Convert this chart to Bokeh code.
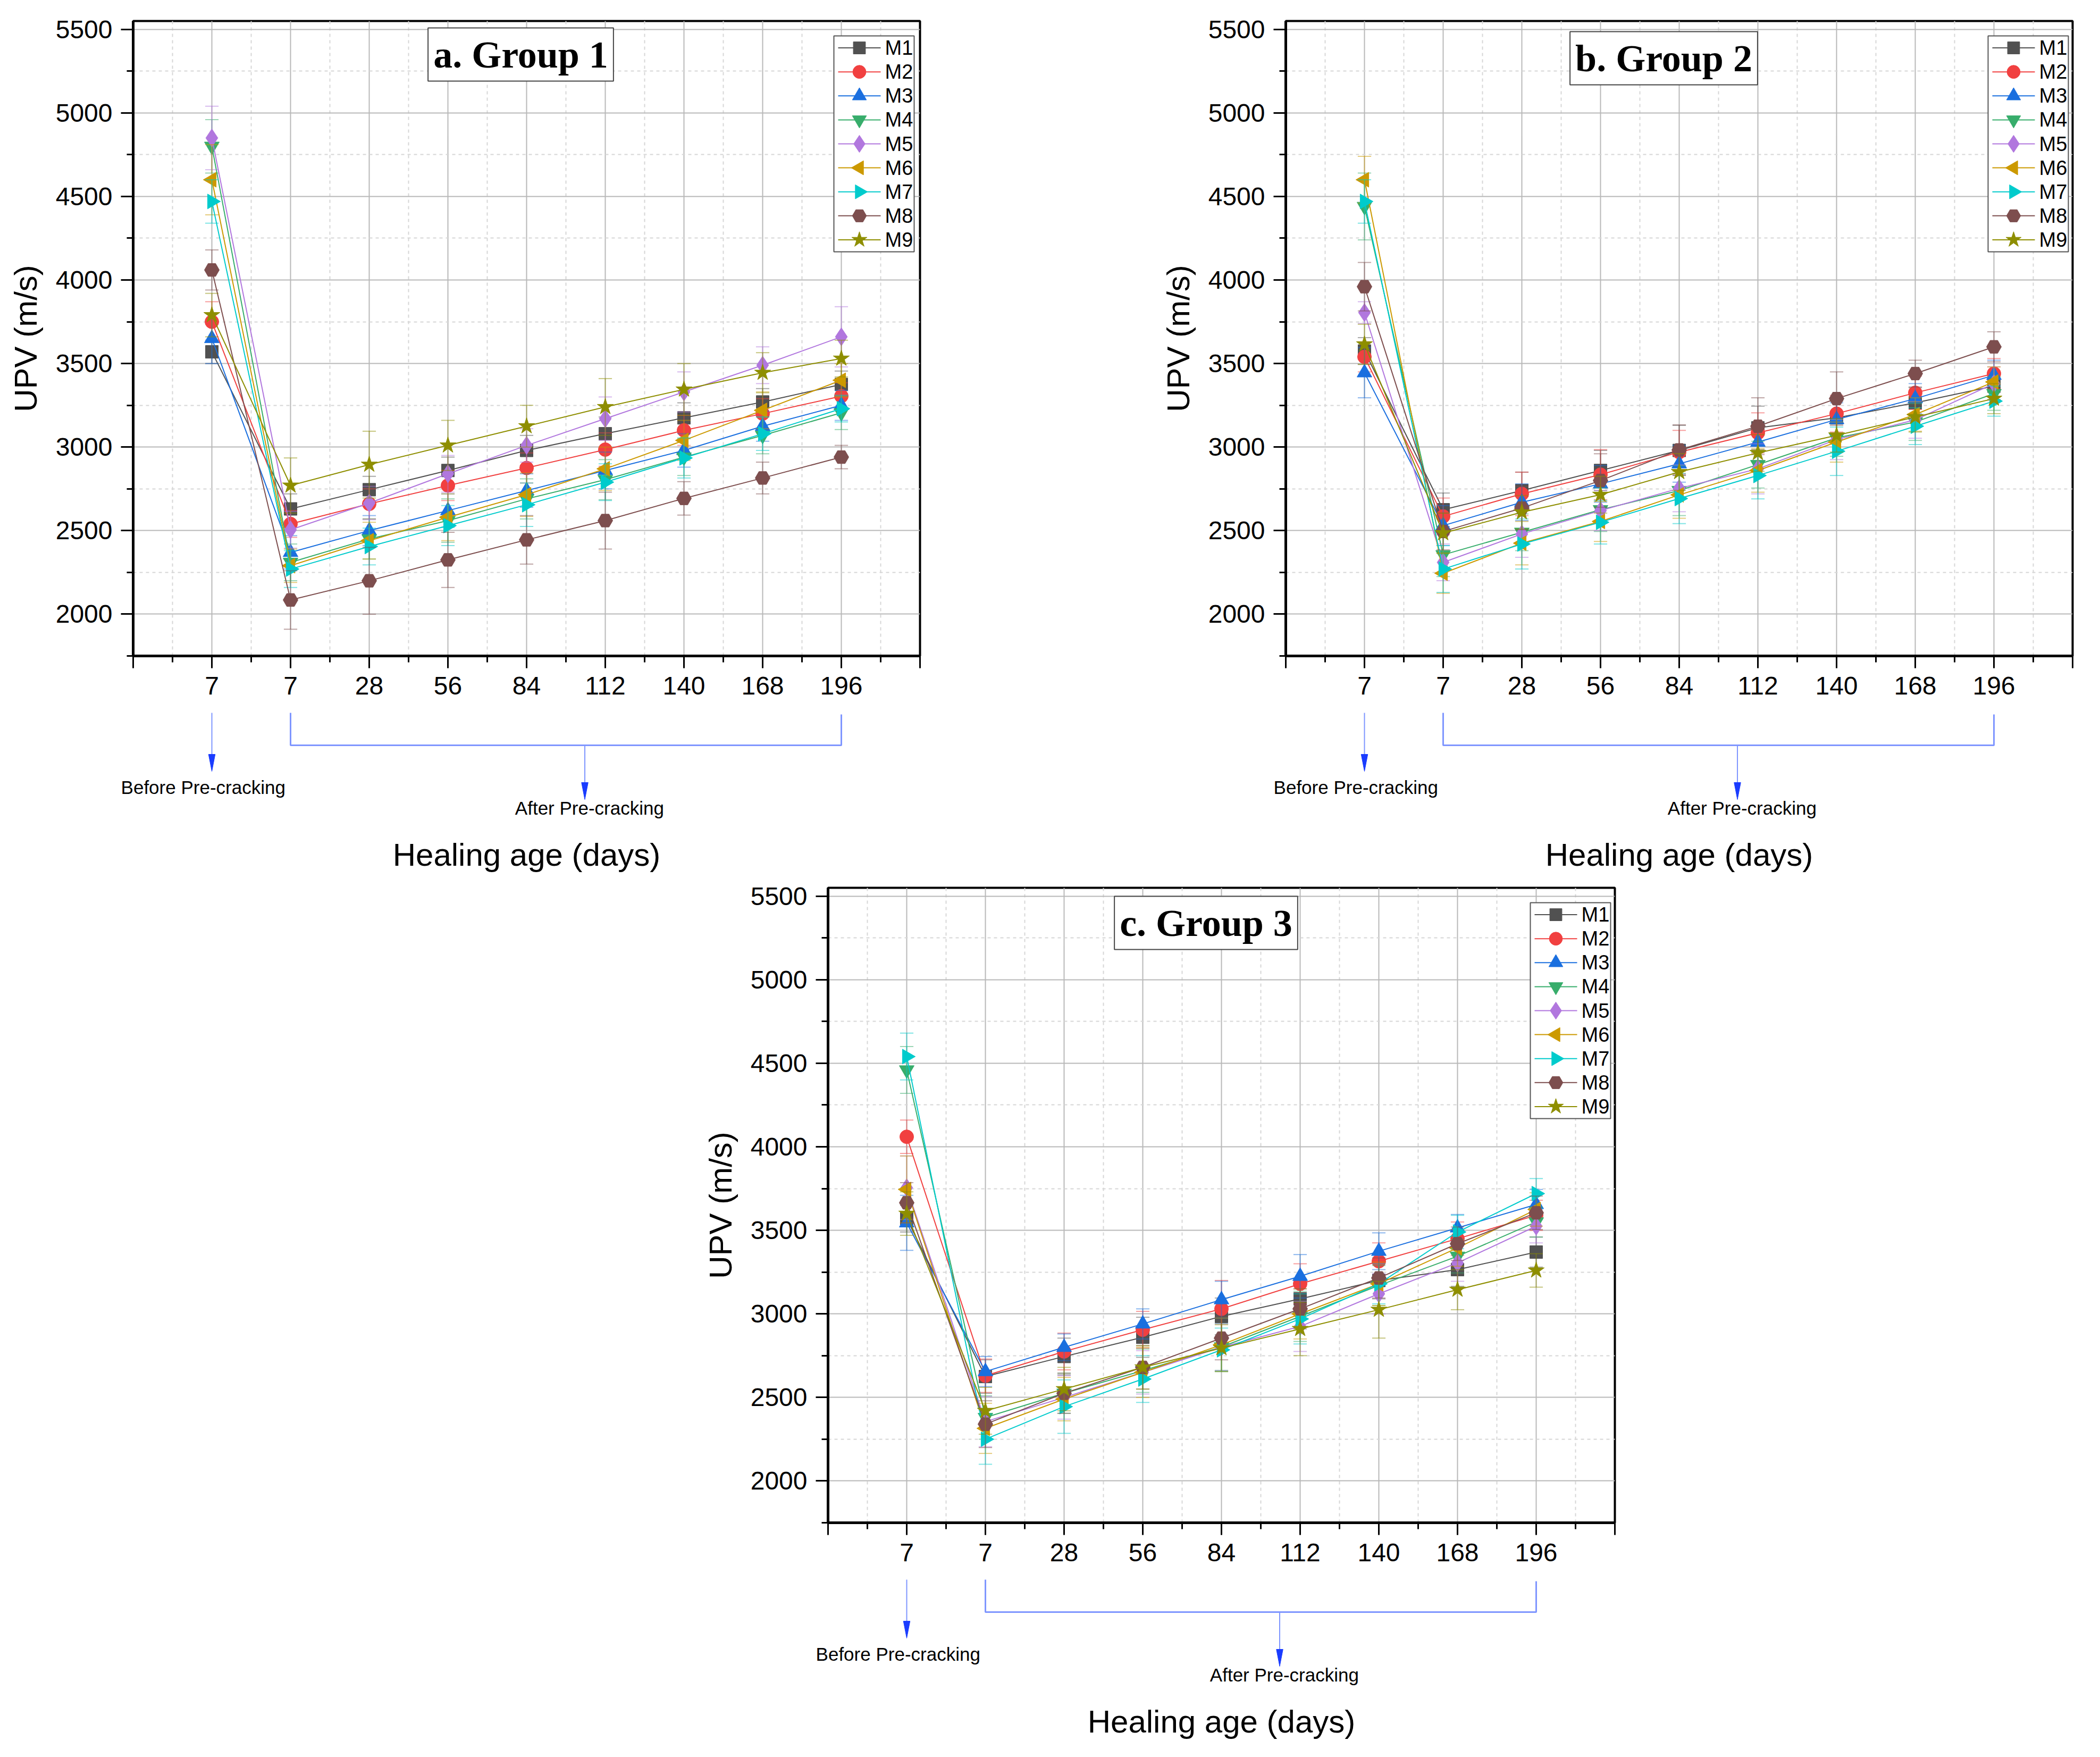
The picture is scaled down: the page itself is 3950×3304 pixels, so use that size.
import numpy as np
from bokeh.plotting import figure
from bokeh.models import Range1d, FixedTicker, Label, Spacer
from bokeh.layouts import row, column
from bokeh.embed import file_html
from bokeh.resources import INLINE
from bokeh.core.properties import value

# ---------------- data ----------------
age_labels = ["7", "7", "28", "56", "84", "112", "140", "168", "196"]
series_names = ["M1", "M2", "M3", "M4", "M5", "M6", "M7", "M8", "M9"]
ytick_values = [2000, 2500, 3000, 3500, 4000, 4500, 5000, 5500]
panel_titles = ["a. Group 1", "b. Group 2", "c. Group 3"]

# Group 1 UPV (m/s)
g1_m1 = [3570, 2630, 2745, 2860, 2980, 3080, 3175, 3270, 3375]
g1_m2 = [3750, 2540, 2660, 2770, 2875, 2985, 3100, 3200, 3305]
g1_m3 = [3650, 2370, 2500, 2620, 2740, 2860, 2980, 3125, 3250]
g1_m4 = [4800, 2310, 2450, 2560, 2690, 2805, 2940, 3070, 3205]
g1_m5 = [4850, 2505, 2665, 2840, 3010, 3170, 3330, 3490, 3660]
g1_m6 = [4600, 2290, 2440, 2580, 2715, 2870, 3040, 3220, 3400]
g1_m7 = [4470, 2270, 2405, 2530, 2655, 2790, 2935, 3080, 3230]
g1_m8 = [4060, 2085, 2200, 2325, 2445, 2560, 2693, 2815, 2940]
g1_m9 = [3790, 2770, 2895, 3010, 3125, 3240, 3345, 3445, 3530]
# Group 1 error (+/-)
g1_e1 = [70, 90, 80, 80, 90, 100, 90, 80, 80]
g1_e2 = [120, 80, 90, 90, 90, 100, 90, 90, 80]
g1_e3 = [150, 100, 90, 100, 100, 110, 100, 90, 90]
g1_e4 = [160, 110, 120, 130, 120, 120, 110, 110, 100]
g1_e5 = [190, 110, 100, 110, 100, 130, 120, 110, 180]
g1_e6 = [210, 100, 110, 140, 130, 130, 120, 110, 100]
g1_e7 = [130, 110, 110, 120, 130, 110, 120, 100, 80]
g1_e8 = [120, 175, 200, 165, 145, 170, 100, 95, 70]
g1_e9 = [130, 165, 200, 150, 125, 170, 155, 120, 110]

# Group 2 UPV (m/s)
g2_m1 = [3575, 2625, 2740, 2860, 2980, 3115, 3175, 3265, 3365]
g2_m2 = [3540, 2585, 2720, 2835, 2970, 3085, 3200, 3325, 3440]
g2_m3 = [3445, 2530, 2670, 2780, 2900, 3030, 3165, 3290, 3430]
g2_m4 = [4440, 2355, 2490, 2625, 2740, 2895, 3055, 3150, 3320]
g2_m5 = [3805, 2310, 2480, 2620, 2753, 2870, 3045, 3163, 3380]
g2_m6 = [4600, 2245, 2425, 2555, 2714, 2860, 3030, 3195, 3390]
g2_m7 = [4470, 2270, 2420, 2550, 2692, 2830, 2975, 3125, 3275]
g2_m8 = [3960, 2495, 2635, 2800, 2983, 3125, 3290, 3440, 3600]
g2_m9 = [3615, 2485, 2610, 2715, 2851, 2965, 3070, 3180, 3290]
# Group 2 error (+/-)
g2_e1 = [80, 100, 110, 120, 150, 130, 100, 90, 80]
g2_e2 = [90, 110, 130, 150, 130, 120, 110, 100, 90]
g2_e3 = [150, 120, 110, 110, 110, 110, 100, 90, 90]
g2_e4 = [200, 130, 110, 130, 150, 140, 110, 110, 100]
g2_e5 = [65, 110, 140, 120, 140, 150, 120, 110, 100]
g2_e6 = [140, 120, 130, 120, 140, 130, 120, 100, 90]
g2_e7 = [130, 140, 150, 130, 150, 140, 145, 110, 90]
g2_e8 = [145, 110, 130, 160, 150, 170, 160, 80, 90]
g2_e9 = [120, 120, 100, 110, 110, 110, 100, 90, 90]

# Group 3 UPV (m/s)
g3_m1 = [3570, 2625, 2745, 2860, 2985, 3090, 3200, 3265, 3370]
g3_m2 = [4060, 2630, 2775, 2905, 3030, 3180, 3315, 3450, 3590]
g3_m3 = [3545, 2655, 2800, 2940, 3085, 3225, 3375, 3515, 3655]
g3_m4 = [4460, 2380, 2525, 2660, 2802, 2985, 3170, 3345, 3550]
g3_m5 = [3755, 2355, 2500, 2650, 2800, 2925, 3120, 3305, 3525]
g3_m6 = [3745, 2315, 2490, 2650, 2815, 3000, 3180, 3395, 3625]
g3_m7 = [4540, 2250, 2445, 2610, 2785, 2970, 3180, 3490, 3720]
g3_m8 = [3665, 2340, 2525, 2680, 2855, 3030, 3215, 3420, 3605]
g3_m9 = [3600, 2420, 2550, 2680, 2795, 2910, 3025, 3145, 3260]
# Group 3 error (+/-)
g3_e1 = [80, 100, 110, 120, 110, 120, 110, 100, 90]
g3_e2 = [100, 100, 110, 110, 170, 120, 110, 100, 90]
g3_e3 = [165, 90, 80, 90, 110, 130, 110, 80, 90]
g3_e4 = [140, 130, 120, 130, 140, 150, 120, 100, 90]
g3_e5 = [190, 150, 130, 130, 140, 150, 120, 110, 100]
g3_e6 = [200, 150, 130, 150, 160, 150, 130, 110, 100]
g3_e7 = [140, 150, 160, 140, 130, 150, 120, 100, 90]
g3_e8 = [120, 140, 120, 130, 130, 120, 120, 100, 100]
g3_e9 = [130, 140, 130, 130, 140, 160, 170, 120, 100]

groups_vals = [
    [g1_m1, g1_m2, g1_m3, g1_m4, g1_m5, g1_m6, g1_m7, g1_m8, g1_m9],
    [g2_m1, g2_m2, g2_m3, g2_m4, g2_m5, g2_m6, g2_m7, g2_m8, g2_m9],
    [g3_m1, g3_m2, g3_m3, g3_m4, g3_m5, g3_m6, g3_m7, g3_m8, g3_m9],
]
groups_errs = [
    [g1_e1, g1_e2, g1_e3, g1_e4, g1_e5, g1_e6, g1_e7, g1_e8, g1_e9],
    [g2_e1, g2_e2, g2_e3, g2_e4, g2_e5, g2_e6, g2_e7, g2_e8, g2_e9],
    [g3_e1, g3_e2, g3_e3, g3_e4, g3_e5, g3_e6, g3_e7, g3_e8, g3_e9],
]

# ---------------- styles ----------------
colors = ["#515151", "#F14040", "#1A6FDF", "#37AD6B", "#B177DE",
          "#CC9900", "#00CBCC", "#7D4E4E", "#8E8E00"]
markers = ["square", "circle", "triangle", "inverted_triangle", "diamond",
           "triangle", "triangle", "hex", "star"]
angles = [0, 0, 0, 0, 0, np.pi / 2, -np.pi / 2, 0, 0]
msizes = [24, 26, 28, 28, 34, 28, 28, 28, 32]

FONT = "Liberation Sans"
FW, FH = 1480, 1194
XMIN, XMAX = 0, 10
YMIN, YMAX = 1750, 5550
LB, RB, BB = 250, 12, 100
AH = 314
ARROW_BLUE = "#1a3cff"
LINE_BLUE = "#7f96ff"

x_pos = np.arange(1, len(age_labels) + 1)


def sx(px):
    """frame pixel (from left) -> data x"""
    return XMIN + px * (XMAX - XMIN) / FW


def sy(py):
    """frame pixel (from bottom) -> data y"""
    return YMIN + py * (YMAX - YMIN) / FH


def make_main(title, vals_list, errs_list, top_border, title_xy, leg_left):
    p = figure(frame_width=FW, frame_height=FH,
               min_border_left=LB, min_border_right=RB,
               min_border_top=top_border, min_border_bottom=BB,
               x_range=Range1d(XMIN, XMAX), y_range=Range1d(YMIN, YMAX),
               output_backend="svg", toolbar_location=None)
    p.background_fill_color = "white"
    p.border_fill_color = "white"
    p.outline_line_color = "black"
    p.outline_line_width = 4

    p.xaxis.ticker = FixedTicker(ticks=list(range(0, 11)),
                                 minor_ticks=[i + 0.5 for i in range(10)])
    overrides = {0: "", 10: ""}
    for i, lab in enumerate(age_labels):
        overrides[i + 1] = lab
    p.xaxis.major_label_overrides = overrides
    p.yaxis.ticker = FixedTicker(ticks=ytick_values,
                                 minor_ticks=[v - 250 for v in ytick_values])
    for ax in (p.xaxis[0], p.yaxis[0]):
        ax.axis_line_width = 5
        ax.axis_line_color = "black"
        ax.major_tick_line_width = 3
        ax.minor_tick_line_width = 3
        ax.major_tick_out = 23
        ax.major_tick_in = 0
        ax.minor_tick_out = 12
        ax.minor_tick_in = 0
        ax.major_label_text_font = FONT
        ax.major_label_text_font_size = "48px"
        ax.major_label_text_color = "black"
        ax.major_label_standoff = 16
    p.yaxis.axis_label = "UPV (m/s)"
    p.yaxis.axis_label_text_font = FONT
    p.yaxis.axis_label_text_font_size = "60px"
    p.yaxis.axis_label_text_font_style = "normal"
    p.yaxis.axis_label_text_color = "black"
    p.yaxis.axis_label_standoff = 20

    for g in (p.xgrid[0], p.ygrid[0]):
        g.grid_line_color = "#b8b8b8"
        g.grid_line_width = 2
        g.minor_grid_line_color = "#d6d6d6"
        g.minor_grid_line_width = 2
        g.minor_grid_line_dash = "6 6"

    cap = 0.085
    for k, name in enumerate(series_names):
        v = np.array(vals_list[k], dtype=float)
        e = np.array(errs_list[k], dtype=float)
        c = colors[k]
        lo, hi = v - e, v + e
        p.segment(x0=x_pos, y0=lo, x1=x_pos, y1=hi, line_color=c,
                  line_alpha=0.5, line_width=2)
        p.segment(x0=x_pos - cap, y0=hi, x1=x_pos + cap, y1=hi,
                  line_color=c, line_alpha=0.5, line_width=2)
        p.segment(x0=x_pos - cap, y0=lo, x1=x_pos + cap, y1=lo,
                  line_color=c, line_alpha=0.5, line_width=2)
        p.line(x_pos, v, line_color=c, line_width=2)
        p.scatter(x_pos, v, marker=markers[k], size=msizes[k],
                  angle=angles[k], fill_color=c, line_color=c)

    # ---- legend box (drawn with glyphs so sample markers keep full size) ----
    n = len(series_names)
    top_px, bot_px = FH - 28, 760
    right_px = leg_left + 151
    p.quad(left=[sx(leg_left)], right=[sx(right_px)],
           bottom=[sy(bot_px)], top=[sy(top_px)],
           fill_color="white", line_color="#555555", line_width=2)
    rh = (top_px - bot_px) / n
    for k, name in enumerate(series_names):
        cy_px = top_px - rh * (k + 0.5)
        p.segment(x0=[sx(leg_left + 8)], y0=[sy(cy_px)],
                  x1=[sx(leg_left + 88)], y1=[sy(cy_px)],
                  line_color=colors[k], line_width=2)
        p.scatter([sx(leg_left + 48)], [sy(cy_px)], marker=markers[k],
                  size=msizes[k] * 0.95, angle=angles[k],
                  fill_color=colors[k], line_color=colors[k])
        p.text([sx(leg_left + 96)], [sy(cy_px)], text=[name],
               text_font=value(FONT), text_font_size="38px",
               text_color="black", text_align="left", text_baseline="middle")

    cx, cy = title_xy
    p.add_layout(Label(x=cx, y=cy, x_units="screen", y_units="screen",
                       text=title, text_font="Liberation Serif",
                       text_font_style="bold", text_font_size="72px",
                       text_color="black", text_align="center",
                       text_baseline="middle",
                       background_fill_color="white",
                       border_line_color="#444444", border_line_width=2,
                       padding=10))
    return p


def make_annot():
    # frame spans the whole figure width; x-scale identical to the panel above
    q = figure(frame_width=FW + LB, frame_height=AH,
               min_border_left=0, min_border_right=RB,
               min_border_top=0, min_border_bottom=0,
               x_range=Range1d(XMIN - LB * (XMAX - XMIN) / FW, XMAX),
               y_range=Range1d(AH, 0),
               x_axis_type=None, y_axis_type=None, frame_align=False,
               output_backend="svg", toolbar_location=None)
    q.outline_line_color = None
    q.grid.visible = False
    q.border_fill_color = "white"
    hw = 0.042
    q.segment(x0=[1], y0=[7], x1=[1], y1=[100], line_color=LINE_BLUE, line_width=2)
    q.patch(x=[1 - hw, 1 + hw, 1], y=[85, 85, 117],
            fill_color=ARROW_BLUE, line_color=ARROW_BLUE)
    q.line(x=[2, 2, 9, 9], y=[7, 68, 68, 10], line_color=LINE_BLUE, line_width=3)
    xa = 5.74
    q.segment(x0=[xa], y0=[68], x1=[xa], y1=[150], line_color=LINE_BLUE, line_width=2)
    q.patch(x=[xa - hw, xa + hw, xa], y=[138, 138, 170],
            fill_color=ARROW_BLUE, line_color=ARROW_BLUE)
    for tx, ty, txt, fs in [(0.89, 147, "Before Pre-cracking", "35px"),
                            (5.8, 186, "After Pre-cracking", "35px"),
                            (5.0, 274, "Healing age (days)", "60px")]:
        q.text(x=[tx], y=[ty], text=[txt], text_font=value(FONT),
               text_font_size=fs, text_color="black",
               text_align="center", text_baseline="middle")
    return q


pa = make_main(panel_titles[0], groups_vals[0], groups_errs[0], 39, (729, 1131), 1318)
pb = make_main(panel_titles[1], groups_vals[1], groups_errs[1], 39, (711, 1124), 1321)
pc = make_main(panel_titles[2], groups_vals[2], groups_errs[2], 22, (711, 1128), 1321)
qa, qb, qc = make_annot(), make_annot(), make_annot()

col_a = column(pa, qa)
col_b = column(pb, qb)
col_c = column(pc, qc)
row1 = row(col_a, Spacer(width=426, height=10), col_b)
row2 = row(Spacer(width=1307, height=10), col_c)
layout = column(row1, row2)

open("out.html", "w").write(file_html(layout, INLINE))
